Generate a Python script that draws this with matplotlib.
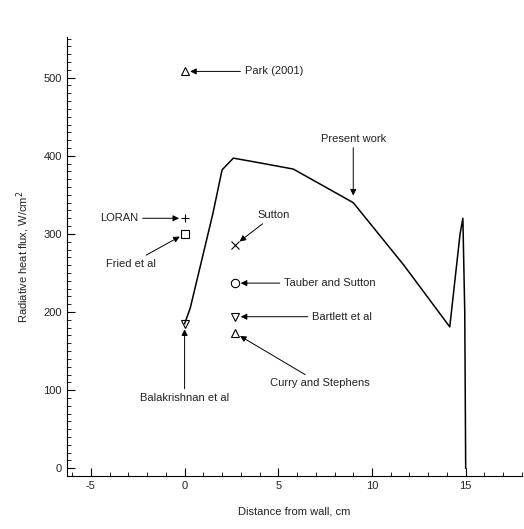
import matplotlib
matplotlib.use('Agg')
import matplotlib.pyplot as plt
from matplotlib.ticker import MultipleLocator

plt.rcParams['font.family'] = ['Liberation Sans', 'DejaVu Sans']
plt.rcParams['axes.unicode_minus'] = False

# Present work curve
dist_cm = [0.0, 0.3, 0.8, 1.5, 2.0, 2.6, 4.0, 5.8, 9.0, 11.7, 14.15, 14.7, 14.85, 14.95, 15.0]
flux = [185, 205, 255, 325, 382, 397, 391, 383, 340, 260, 181, 300, 320, 200, 0]

# other data points
ref_names = ['Park (2001)', 'LORAN', 'Fried et al', 'Sutton', 'Tauber and Sutton',
             'Bartlett et al', 'Curry and Stephens', 'Balakrishnan et al']
ref_x = [0.0, 0.0, 0.0, 2.7, 2.7, 2.7, 2.7, 0.0]
ref_y = [508, 320, 300, 286, 237, 194, 173, 185]
ref_marker = ['^', '+', 's', 'x', 'o', 'v', '^', 'v']
# label positions (data coords) for the annotations
lab_x = [3.2, -4.5, -4.2, 3.9, 5.3, 6.8, 7.2, 0.0]
lab_y = [508, 320, 262, 324, 237, 194, 109, 90]
lab_ha = ['left', 'left', 'left', 'left', 'left', 'left', 'center', 'center']

fig = plt.figure(figsize=(5.24, 5.29), dpi=100)
ax = fig.add_axes([0.127, 0.100, 0.869, 0.830])

ax.plot(dist_cm, flux, color='k', lw=1.1)

for nm, x, y, m in zip(ref_names, ref_x, ref_y, ref_marker):
    ax.plot([x], [y], marker=m, ms=6, mfc='none', mec='k', mew=0.8, ls='none')

arrow = dict(arrowstyle='-|>', lw=0.7, color='k', mutation_scale=9, shrinkA=1, shrinkB=4)
for nm, x, y, tx, ty, ha in zip(ref_names, ref_x, ref_y, lab_x, lab_y, lab_ha):
    ax.annotate(nm, xy=(x, y), xytext=(tx, ty), ha=ha, va='center',
                fontsize=8, color='#222222', arrowprops=arrow)

ax.annotate('Present work', xy=(9.0, 342), xytext=(9.0, 422), ha='center', va='center',
            fontsize=8, color='#222222', arrowprops=arrow)

ax.set_xlim(-6.3, 18)
ax.set_ylim(-10, 552)
ax.xaxis.set_major_locator(MultipleLocator(5))
ax.xaxis.set_minor_locator(MultipleLocator(1))
ax.yaxis.set_major_locator(MultipleLocator(100))
ax.yaxis.set_minor_locator(MultipleLocator(10))
ax.tick_params(which='both', direction='in', labelsize=8, labelcolor='#222222')
ax.tick_params(which='major', length=6, width=0.8)
ax.tick_params(which='minor', length=3, width=0.6)
ax.spines['top'].set_visible(False)
ax.spines['right'].set_visible(False)

ax.set_xlabel('Distance from wall, cm', fontsize=8, color='#222222', labelpad=11)
ax.set_ylabel('Radiative heat flux, W/cm$^2$', fontsize=8, color='#222222', labelpad=8)

fig.savefig('out.png', dpi=100)
